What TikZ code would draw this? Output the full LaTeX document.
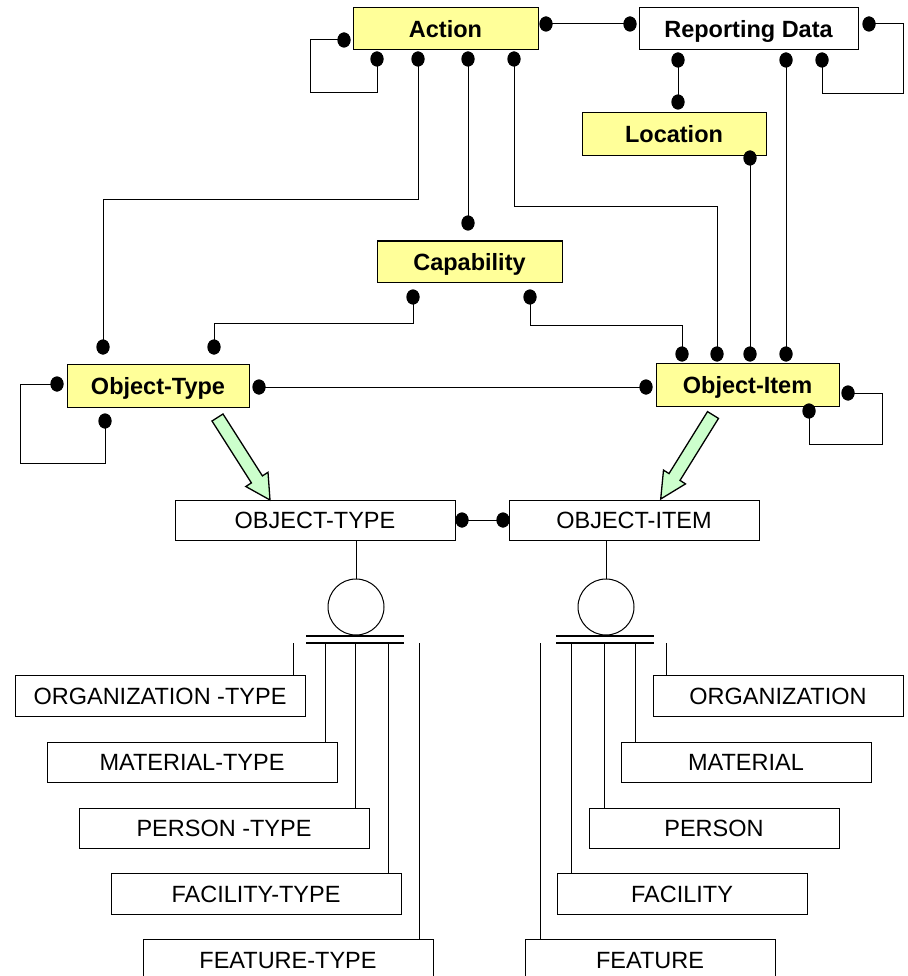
\documentclass[tikz,border=0pt]{standalone}
\usepackage{fontspec}
\setmainfont{Liberation Sans}
\usetikzlibrary{shapes.geometric,calc}
\definecolor{entyellow}{RGB}{255,255,153}
\definecolor{arrgreen}{RGB}{204,255,204}
\tikzset{
  ent/.style={draw, line width=1pt, fill=entyellow, font=\bfseries\fontsize{23.5}{28}\selectfont, text height=17pt, text depth=0pt, inner sep=0pt},
  entw/.style={ent, fill=white},
  tbl/.style={draw, line width=1pt, fill=white, font=\fontsize{23.5}{28}\selectfont, text height=17pt, text depth=0pt, inner sep=0pt},
  lolly/.style={ellipse, fill=black, draw=none, minimum width=13pt, minimum height=15pt, inner sep=0pt},
  conn/.style={line width=1pt},
  bar/.style={line width=1.8pt},
  garrow/.style={draw, line width=1.3pt, fill=arrgreen, line join=miter},
  cls/.style={circle, draw, line width=1pt, minimum size=56pt, inner sep=0pt}
}
\begin{document}
\begin{tikzpicture}[x=1pt,y=-1pt]
\clip (0,0) rectangle (907,976);
\fill[white] (0,0) rectangle (907,976);

% entity boxes
\node[ent, minimum width=185pt, minimum height=42pt] (action) at (445.5,29) {Action};
\node[entw, minimum width=219pt, minimum height=42pt] (report) at (748.5,29) {Reporting Data};
\node[ent, minimum width=184pt, minimum height=43pt] (location) at (674,134.5) {Location};
\node[ent, minimum width=185pt, minimum height=41pt] (capab) at (469.5,261.5) {Capability};
\node[ent, minimum width=182pt, minimum height=43pt] (otype) at (158,385.5) {Object-Type};
\node[ent, minimum width=183pt, minimum height=43pt] (oitem) at (747.5,384.5) {Object-Item};

% tables
\node[tbl, minimum width=280pt, minimum height=40pt] (OT) at (315,520) {OBJECT-TYPE};
\node[tbl, minimum width=250pt, minimum height=40pt] (OI) at (634,520) {OBJECT-ITEM};

\node[tbl, minimum width=290pt, minimum height=41pt] (orgt) at (160,695.5) {ORGANIZATION -TYPE};
\node[tbl, minimum width=290pt, minimum height=40pt] (matt) at (192,762) {MATERIAL-TYPE};
\node[tbl, minimum width=290pt, minimum height=40pt] (pert) at (224,828) {PERSON -TYPE};
\node[tbl, minimum width=290pt, minimum height=41pt] (fact) at (256,893.5) {FACILITY-TYPE};
\node[tbl, minimum width=290pt, minimum height=42pt] (feat) at (288,960) {FEATURE-TYPE};

\node[tbl, minimum width=250pt, minimum height=41pt] (org) at (778,695.5) {ORGANIZATION};
\node[tbl, minimum width=250pt, minimum height=40pt] (mat) at (746,762) {MATERIAL};
\node[tbl, minimum width=250pt, minimum height=40pt] (per) at (714,828) {PERSON};
\node[tbl, minimum width=250pt, minimum height=41pt] (fac) at (682,893.5) {FACILITY};
\node[tbl, minimum width=250pt, minimum height=42pt] (fea) at (650,960) {FEATURE};

% lollipop dots
\node[lolly] (dAl) at (344,40) {};
\node[lolly] (dAb1) at (377,59) {};
\node[lolly] (dAb2) at (418,59) {};
\node[lolly] (dAb3) at (468,59) {};
\node[lolly] (dAb4) at (514,59) {};
\node[lolly] (dAr) at (546,24) {};
\node[lolly] (dRl) at (630,24) {};
\node[lolly] (dRb1) at (678,60) {};
\node[lolly] (dRb2) at (786,60) {};
\node[lolly] (dRb3) at (822,60) {};
\node[lolly] (dRr) at (869,24) {};
\node[lolly] (dLt) at (678,102) {};
\node[lolly] (dLb) at (750,158) {};
\node[lolly] (dCt) at (468,223) {};
\node[lolly] (dCb1) at (413,297) {};
\node[lolly] (dCb2) at (530,297) {};
\node[lolly] (dOTt1) at (103,347) {};
\node[lolly] (dOTt2) at (214,347) {};
\node[lolly] (dOTr) at (259,387) {};
\node[lolly] (dOTl) at (57,384) {};
\node[lolly] (dOTb) at (105,421) {};
\node[lolly] (dOIt1) at (682,354) {};
\node[lolly] (dOIt2) at (717,354) {};
\node[lolly] (dOIt3) at (750,354) {};
\node[lolly] (dOIt4) at (786,354) {};
\node[lolly] (dOIl) at (646,387) {};
\node[lolly] (dOIr) at (848,393) {};
\node[lolly] (dOIb) at (809,411) {};
\node[lolly] (dXl) at (462,520) {};
\node[lolly] (dXr) at (503,520) {};

% connectors
\begin{scope}[on background layer/.style={}]
\draw[conn] (dAl.center) -| (310,93) -| (dAb1.center);
\draw[conn] (dAb2.center) -- (418,200) -| (dOTt1.center);
\draw[conn] (dAb3.center) -- (dCt.center);
\draw[conn] (dAb4.center) -- (514,207) -| (dOIt2.center);
\draw[conn] (dAr.center) -- (dRl.center);
\draw[conn] (dRb1.center) -- (dLt.center);
\draw[conn] (dRb2.center) -- (dOIt4.center);
\draw[conn] (dRr.center) -| (903,94) -| (dRb3.center);
\draw[conn] (dLb.center) -- (dOIt3.center);
\draw[conn] (dCb1.center) -- (413,323) -| (dOTt2.center);
\draw[conn] (dCb2.center) -- (530,325) -| (dOIt1.center);
\draw[conn] (dOTr.center) -- (dOIl.center);
\draw[conn] (dOTl.center) -| (20,463) -| (dOTb.center);
\draw[conn] (dOIr.center) -| (882,444) -| (dOIb.center);
\draw[conn] (dXl.center) -- (dXr.center);
\end{scope}

% redraw dots on top
\foreach \d in {dAl,dAb1,dAb2,dAb3,dAb4,dAr,dRl,dRb1,dRb2,dRb3,dRr,dLt,dLb,dCt,dCb1,dCb2,dOTt1,dOTt2,dOTr,dOTl,dOTb,dOIt1,dOIt2,dOIt3,dOIt4,dOIl,dOIr,dOIb,dXl,dXr}
  \fill[black] (\d.center) ellipse (6.5pt and 7.5pt);

% green arrows
\draw[garrow] (212,421) -- (223,414) -- (262.4,475.9) -- (268,472.3) -- (270,500) -- (245.8,486.5) -- (251.4,482.9) -- cycle;
\draw[garrow] (707.5,411.6) -- (718.5,418.4) -- (680,480.4) -- (685.5,483.9) -- (660.7,499) -- (663.5,470.1) -- (669,473.6) -- cycle;

% subtype clusters
\node[cls] (cL) at (356,607) {};
\node[cls] (cR) at (606,607) {};
\draw[conn] (cL.north) -- (cL.north |- OT.south);
\draw[conn] (cR.north) -- (cR.north |- OI.south);
\draw[bar] (306,636) -- (404,636);
\draw[bar] (306,643) -- (404,643);
\draw[bar] (556,636) -- (654,636);
\draw[bar] (556,643) -- (654,643);

\coordinate (l1) at (293,643);
\coordinate (l2) at (325,643);
\coordinate (l3) at (355,643);
\coordinate (l4) at (388,643);
\coordinate (l5) at (419,643);
\draw[conn] (l1) -- (l1 |- orgt.north);
\draw[conn] (l2) -- (l2 |- matt.north);
\draw[conn] (l3) -- (l3 |- pert.north);
\draw[conn] (l4) -- (l4 |- fact.north);
\draw[conn] (l5) -- (l5 |- feat.north);

\coordinate (r1) at (666,643);
\coordinate (r2) at (635,643);
\coordinate (r3) at (604,643);
\coordinate (r4) at (571,643);
\coordinate (r5) at (540,643);
\draw[conn] (r1) -- (r1 |- org.north);
\draw[conn] (r2) -- (r2 |- mat.north);
\draw[conn] (r3) -- (r3 |- per.north);
\draw[conn] (r4) -- (r4 |- fac.north);
\draw[conn] (r5) -- (r5 |- fea.north);
\end{tikzpicture}
\end{document}
